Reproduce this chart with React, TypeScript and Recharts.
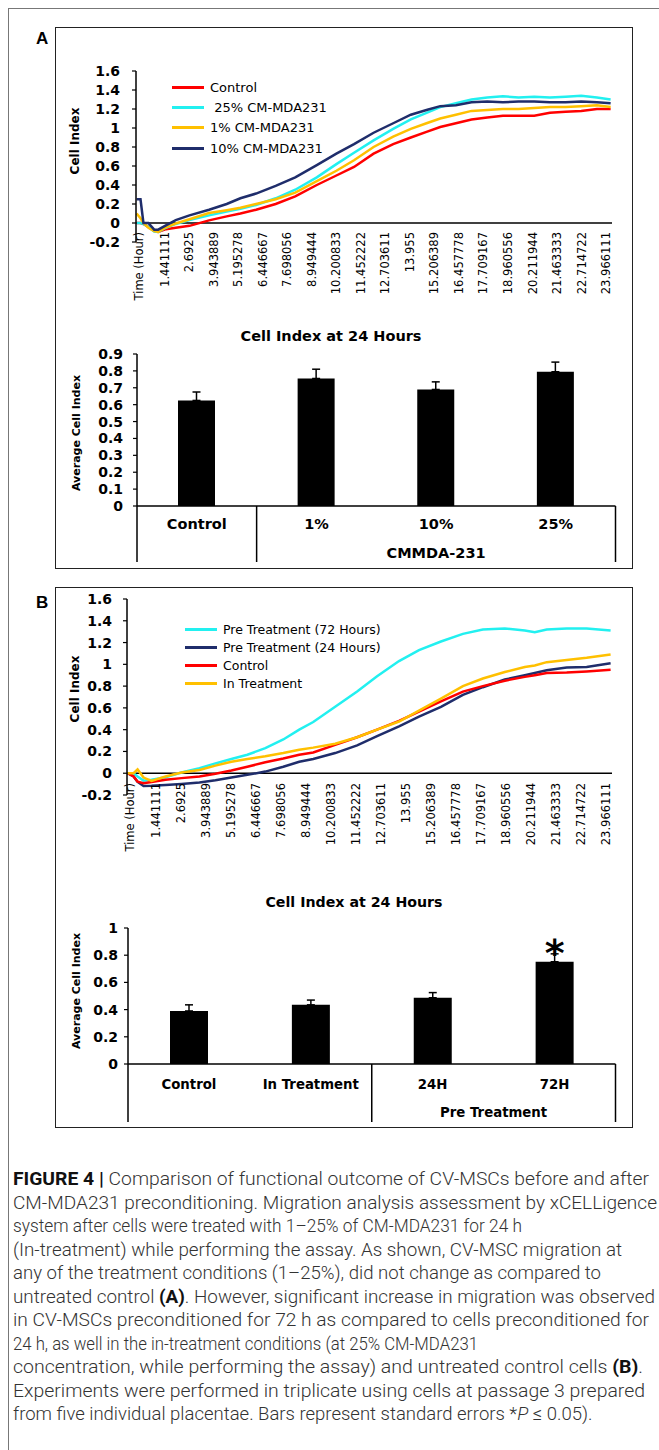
import React from "react";
import {
  LineChart,
  Line,
  XAxis,
  YAxis,
  ReferenceLine,
  Legend,
  BarChart,
  Bar,
  ErrorBar,
  LabelList,
} from "recharts";

const FONT = "'DejaVu Sans', sans-serif";
const CAPTION_FONT = "Roboto, 'Liberation Sans', Arial, sans-serif";

// ---- Panel A: migration curves (Cell Index vs time, hours) ----
const A_TIME = [0, 0.2, 0.35, 0.6, 0.9, 1.1, 1.5, 2.0, 2.7, 3.7, 4.6, 5.3, 6.1, 7.1, 8.1, 9.2, 10.2, 11.1, 12.1, 13.1, 14.0, 14.8, 15.5, 16.3, 17.1, 17.9, 18.7, 19.5, 20.3, 21.1, 21.9, 22.7, 23.5, 24.2];
const A_CONTROL = [0, 0, -0.01, -0.04, -0.085, -0.095, -0.065, -0.05, -0.03, 0.028, 0.07, 0.1, 0.14, 0.2, 0.28, 0.4, 0.5, 0.59, 0.73, 0.83, 0.9, 0.96, 1.01, 1.05, 1.09, 1.11, 1.13, 1.13, 1.13, 1.16, 1.17, 1.18, 1.2, 1.2];
const A_CM25 = [0, 0, -0.01, -0.04, -0.09, -0.095, -0.05, -0.01, 0.03, 0.08, 0.12, 0.15, 0.19, 0.26, 0.35, 0.48, 0.62, 0.74, 0.87, 0.99, 1.09, 1.16, 1.22, 1.26, 1.3, 1.32, 1.335, 1.32, 1.33, 1.32, 1.33, 1.34, 1.32, 1.3];
const A_CM1 = [0.1, 0.05, 0, -0.05, -0.085, -0.095, -0.045, -0.005, 0.04, 0.105, 0.135, 0.16, 0.2, 0.25, 0.32, 0.44, 0.55, 0.66, 0.8, 0.91, 0.99, 1.05, 1.1, 1.14, 1.18, 1.19, 1.2, 1.2, 1.21, 1.22, 1.22, 1.23, 1.24, 1.22];
const A_CM10 = [0.25, 0.25, 0, 0, -0.07, -0.07, -0.025, 0.03, 0.08, 0.14, 0.2, 0.26, 0.31, 0.39, 0.48, 0.61, 0.73, 0.83, 0.95, 1.05, 1.14, 1.19, 1.23, 1.24, 1.27, 1.28, 1.27, 1.28, 1.28, 1.27, 1.27, 1.28, 1.27, 1.26];

// ---- Panel B: migration curves ----
const B_TIME = [0, 0.3, 0.5, 0.8, 1.2, 1.9, 2.7, 3.6, 4.4, 5.2, 6.0, 6.9, 7.8, 8.6, 9.3, 10.4, 11.5, 12.5, 13.6, 14.6, 15.7, 16.8, 17.8, 18.9, 19.9, 20.4, 21.0, 22.0, 23.0, 24.2];
const B_PRE72 = [0, 0, -0.03, -0.068, -0.06, -0.037, 0.006, 0.046, 0.09, 0.13, 0.17, 0.23, 0.31, 0.4, 0.47, 0.61, 0.75, 0.89, 1.03, 1.13, 1.21, 1.28, 1.32, 1.33, 1.31, 1.295, 1.32, 1.33, 1.33, 1.31];
const B_PRE24 = [0, -0.03, -0.08, -0.117, -0.115, -0.108, -0.098, -0.086, -0.065, -0.04, -0.015, 0.015, 0.06, 0.105, 0.13, 0.185, 0.255, 0.34, 0.43, 0.52, 0.61, 0.72, 0.79, 0.86, 0.9, 0.92, 0.945, 0.97, 0.975, 1.01];
const B_CONTROL = [0, -0.03, -0.077, -0.092, -0.08, -0.06, -0.045, -0.03, -0.005, 0.025, 0.06, 0.1, 0.135, 0.17, 0.19, 0.26, 0.33, 0.4, 0.48, 0.565, 0.66, 0.75, 0.8, 0.85, 0.885, 0.9, 0.92, 0.925, 0.935, 0.95];
const B_INTREAT = [0, 0, 0.035, -0.04, -0.07, -0.03, 0.006, 0.03, 0.07, 0.105, 0.13, 0.155, 0.185, 0.216, 0.235, 0.27, 0.33, 0.4, 0.475, 0.575, 0.685, 0.8, 0.87, 0.93, 0.975, 0.99, 1.02, 1.04, 1.06, 1.09];

// x-axis tick positions (hours) and their printed labels
const TIME_TICKS = [0.12, 1.441111, 2.6925, 3.943889, 5.195278, 6.446667, 7.698056, 8.949444, 10.200833, 11.452222, 12.703611, 13.955, 15.206389, 16.457778, 17.709167, 18.960556, 20.211944, 21.463333, 22.714722, 23.966111];
const TIME_LABELS = ["Time (Hour)", "1.441111", "2.6925", "3.943889", "5.195278", "6.446667", "7.698056", "8.949444", "10.200833", "11.452222", "12.703611", "13.955", "15.206389", "16.457778", "17.709167", "18.960556", "20.211944", "21.463333", "22.714722", "23.966111"];
const CI_TICKS = [-0.2, 0, 0.2, 0.4, 0.6, 0.8, 1, 1.2, 1.4, 1.6];

// ---- Bar panels: Cell Index at 24 h ----
const A_BAR_CATS = ["Control", "1%", "10%", "25%"];
const A_BAR_MEANS = [0.625, 0.755, 0.69, 0.795];
const A_BAR_SE = [0.05, 0.055, 0.045, 0.057];
const A_BAR_TICKS = [0, 0.1, 0.2, 0.3, 0.4, 0.5, 0.6, 0.7, 0.8, 0.9];
const A_GROUPS = [
  { from: 0, to: 0, label: "" },
  { from: 1, to: 3, label: "CMMDA-231" },
];

const B_BAR_CATS = ["Control", "In Treatment", "24H", "72H"];
const B_BAR_MEANS = [0.39, 0.435, 0.487, 0.752];
const B_BAR_SE = [0.045, 0.035, 0.038, 0.058];
const B_BAR_SIG = ["", "", "", "*"];
const B_BAR_TICKS = [0, 0.2, 0.4, 0.6, 0.8, 1];
const B_GROUPS = [
  { from: 0, to: 1, label: "" },
  { from: 2, to: 3, label: "Pre Treatment" },
];

const COLORS = {
  red: "#ff0000",
  cyan: "#22f0f0",
  gold: "#ffc000",
  navy: "#1f2d6b",
};

// series listed in legend order
const A_SERIES = [
  { key: "control", name: "Control", color: COLORS.red, values: A_CONTROL },
  { key: "cm25", name: " 25% CM-MDA231", color: COLORS.cyan, values: A_CM25 },
  { key: "cm1", name: "1% CM-MDA231", color: COLORS.gold, values: A_CM1 },
  { key: "cm10", name: "10% CM-MDA231", color: COLORS.navy, values: A_CM10 },
];
const B_SERIES = [
  { key: "pre72", name: "Pre Treatment (72 Hours)", color: COLORS.cyan, values: B_PRE72 },
  { key: "pre24", name: "Pre Treatment (24 Hours)", color: COLORS.navy, values: B_PRE24 },
  { key: "control", name: "Control", color: COLORS.red, values: B_CONTROL },
  { key: "intreat", name: "In Treatment", color: COLORS.gold, values: B_INTREAT },
];

const TIME_DOMAIN: [number, number] = [-0.03, 24.27];

function buildRows(time: number[], series: { key: string; values: number[] }[]) {
  return time.map((t, i) => {
    const row: Record<string, number> = { t };
    series.forEach((s) => (row[s.key] = s.values[i]));
    return row;
  });
}

const TimeTick = (lift: number) => (props: any) => {
  const { x, y, payload } = props;
  const top = y - lift;
  const label = TIME_LABELS[TIME_TICKS.indexOf(payload.value)];
  return (
    <text
      x={x}
      y={top}
      transform={`rotate(-90 ${x} ${top})`}
      textAnchor="end"
      dominantBaseline="central"
      fontFamily={FONT}
      fontSize={11.5}
      fill="#000"
    >
      {label}
    </text>
  );
};

// legend rows follow the series order, colours come from the legend payload
const SeriesLegend =
  (order: string[], rowH: number, lineW: number, fontSize: number) => (props: any) => {
    const items = props.payload || [];
    const sorted = order
      .map((name) => items.find((it: any) => it.value === name))
      .filter(Boolean);
    return (
      <div style={{ fontFamily: FONT, fontSize, color: "#000" }}>
        {sorted.map((it: any) => (
          <div
            key={it.value}
            style={{ height: rowH, display: "flex", alignItems: "center", whiteSpace: "pre" }}
          >
            <span
              style={{ display: "inline-block", width: lineW, height: 3, background: it.color, marginRight: 6 }}
            />
            <span>{it.value}</span>
          </div>
        ))}
      </div>
    );
  };

interface TimeCourseProps {
  top: number;
  series: typeof A_SERIES;
  time: number[];
  margin: { top: number; right: number; bottom: number; left: number };
  tickMargin: number;
  lift: number;
  legendPos: { left: number; top: number };
  legendRow: number;
  legendFont: number;
}

function TimeCourse(p: TimeCourseProps) {
  const rows = buildRows(p.time, p.series);
  return (
    <div style={{ position: "absolute", left: 0, top: p.top }}>
      <LineChart width={659} height={320} data={rows} margin={p.margin}>
        <XAxis
          type="number"
          dataKey="t"
          domain={TIME_DOMAIN}
          ticks={TIME_TICKS}
          interval={0}
          axisLine={false}
          tickLine={false}
          tickSize={0}
          tickMargin={0}
          height={70}
          tick={TimeTick(p.lift)}
        />
        <YAxis
          domain={[-0.2, 1.6]}
          ticks={CI_TICKS}
          interval={0}
          width={60}
          axisLine={{ stroke: "#000", strokeWidth: 1.5 }}
          tickLine={{ stroke: "#000", strokeWidth: 1.2 }}
          tickSize={4}
          tickMargin={p.tickMargin}
          tick={{ fontFamily: FONT, fontWeight: 700, fontSize: 14, fill: "#000" }}
        />
        <ReferenceLine y={0} stroke="#000" strokeWidth={1.5} />
        {p.series.map((s) => (
          <Line
            key={s.key}
            type="linear"
            dataKey={s.key}
            name={s.name}
            stroke={s.color}
            strokeWidth={2.5}
            dot={false}
            isAnimationActive={false}
          />
        ))}
        <Legend
          layout="vertical"
          align="center"
          verticalAlign="middle"
          wrapperStyle={{ left: p.legendPos.left, top: p.legendPos.top, width: "auto" }}
          content={SeriesLegend(p.series.map((s) => s.name), p.legendRow, 32, p.legendFont)}
        />
      </LineChart>
    </div>
  );
}

type Group = { from: number; to: number; label: string };

const CategoryTick =
  (band: number, n: number, groups: Group[], labelDy: number, groupDy: number, sepLen: number, fontSize: number) =>
  (props: any) => {
    const { x, y, payload, index } = props;
    const half = band / 2;
    const g = groups.find((gr) => gr.from === index);
    const text = { fontFamily: FONT, fontWeight: 700, fontSize, fill: "#000" } as const;
    return (
      <g>
        <text x={x} y={y + labelDy} textAnchor="middle" dominantBaseline="central" {...text}>
          {payload.value}
        </text>
        {g && <line x1={x - half} x2={x - half} y1={y} y2={y + sepLen} stroke="#000" strokeWidth={1.5} />}
        {g && g.label && (
          <text x={x + (g.to - g.from) * half} y={y + groupDy} textAnchor="middle" dominantBaseline="central" {...text}>
            {g.label}
          </text>
        )}
        {index === n - 1 && (
          <line x1={x + half} x2={x + half} y1={y} y2={y + sepLen} stroke="#000" strokeWidth={1.5} />
        )}
      </g>
    );
  };

const Star = (props: any) => {
  const { x, y, width, value } = props;
  if (!value) return null;
  return (
    <text x={x + width / 2} y={y + 4} textAnchor="middle" fontFamily={FONT} fontWeight={700} fontSize={38} fill="#000">
      {value}
    </text>
  );
};

interface BarPanelProps {
  top: number;
  cats: string[];
  means: number[];
  se: number[];
  sig?: string[];
  ticks: number[];
  margin: { top: number; right: number; bottom: number; left: number };
  barSize: number;
  tickMargin: number;
  groups: Group[];
  labelDy: number;
  groupDy: number;
  sepLen: number;
  catFont: number;
}

function BarPanel(p: BarPanelProps) {
  const rows = p.cats.map((c, i) => ({
    cat: c,
    v: p.means[i],
    err: [0, p.se[i]],
    sig: p.sig ? p.sig[i] : "",
  }));
  const plotW = 659 - p.margin.left - 60 - p.margin.right;
  const band = plotW / p.cats.length;
  return (
    <div style={{ position: "absolute", left: 0, top: p.top }}>
      <BarChart width={659} height={260} data={rows} margin={p.margin}>
        <XAxis
          dataKey="cat"
          interval={0}
          axisLine={{ stroke: "#000", strokeWidth: 1.5 }}
          tickLine={false}
          tickSize={0}
          tickMargin={0}
          height={60}
          tick={CategoryTick(band, p.cats.length, p.groups, p.labelDy, p.groupDy, p.sepLen, p.catFont)}
        />
        <YAxis
          domain={[0, p.ticks[p.ticks.length - 1]]}
          ticks={p.ticks}
          interval={0}
          width={60}
          axisLine={{ stroke: "#000", strokeWidth: 1.5 }}
          tickLine={{ stroke: "#000", strokeWidth: 1.2 }}
          tickSize={4}
          tickMargin={p.tickMargin}
          tick={{ fontFamily: FONT, fontWeight: 700, fontSize: 14, fill: "#000" }}
        />
        <Bar dataKey="v" fill="#000" barSize={p.barSize} isAnimationActive={false}>
          <ErrorBar dataKey="err" direction="y" width={4} stroke="#000" strokeWidth={1.5} />
          {p.sig && <LabelList dataKey="sig" content={Star} />}
        </Bar>
      </BarChart>
    </div>
  );
}

const abs = (s: React.CSSProperties): React.CSSProperties => ({ position: "absolute", ...s });

function VLabel({ cx, cy, text, size }: { cx: number; cy: number; text: string; size: number }) {
  return (
    <div
      style={abs({
        left: cx,
        top: cy,
        transform: "translate(-50%, -50%) rotate(-90deg)",
        whiteSpace: "nowrap",
        fontFamily: FONT,
        fontWeight: 700,
        fontSize: size,
        color: "#000",
      })}
    >
      {text}
    </div>
  );
}

function Title({ cx, cy, text, size }: { cx: number; cy: number; text: string; size: number }) {
  return (
    <div
      style={abs({
        left: cx,
        top: cy,
        transform: "translate(-50%, -50%)",
        whiteSpace: "nowrap",
        fontFamily: FONT,
        fontWeight: 700,
        fontSize: size,
        color: "#000",
      })}
    >
      {text}
    </div>
  );
}

const CAPTION: { parts: { t: string; b?: boolean; i?: boolean }[]; end: number }[] = [
  { parts: [{ t: "FIGURE 4 | ", b: true }, { t: "Comparison of functional outcome of CV-MSCs before and after" }], end: 649 },
  { parts: [{ t: "CM-MDA231 preconditioning. Migration analysis assessment by xCELLigence" }], end: 657 },
  { parts: [{ t: "system after cells were treated with 1–25% of CM-MDA231 for 24 h" }], end: 522 },
  { parts: [{ t: "(In-treatment) while performing the assay. As shown, CV-MSC migration at" }], end: 622 },
  { parts: [{ t: "any of the treatment conditions (1–25%), did not change as compared to" }], end: 601 },
  { parts: [{ t: "untreated control " }, { t: "(A)", b: true }, { t: ". However, significant increase in migration was observed" }], end: 655 },
  { parts: [{ t: "in CV-MSCs preconditioned for 72 h as compared to cells preconditioned for" }], end: 649 },
  { parts: [{ t: "24 h, as well in the in-treatment conditions (at 25% CM-MDA231" }], end: 478 },
  { parts: [{ t: "concentration, while performing the assay) and untreated control cells " }, { t: "(B)", b: true }, { t: "." }], end: 643 },
  { parts: [{ t: "Experiments were performed in triplicate using cells at passage 3 prepared" }], end: 645 },
  { parts: [{ t: "from five individual placentae. Bars represent standard errors *" }, { t: "P", i: true }, { t: " ≤ 0.05)." }], end: 0 },
];

function Caption() {
  const x0 = 13;
  return (
    <svg width={659} height={290} style={abs({ left: 0, top: 1160 })}>
      {CAPTION.map((line, i) => (
        <text
          key={i}
          x={x0}
          y={25 + i * 23.5}
          textLength={line.end ? line.end - x0 : undefined}
          lengthAdjust={line.end ? "spacingAndGlyphs" : undefined}
          fontFamily={CAPTION_FONT}
          fontWeight={300}
          fontSize={18.5}
          fill="#333"
        >
          {line.parts.map((pt, j) => (
            <tspan key={j} fontWeight={pt.b ? 700 : 300} fontStyle={pt.i ? "italic" : "normal"} fill={pt.b ? "#111" : undefined}>
              {pt.t}
            </tspan>
          ))}
        </text>
      ))}
    </svg>
  );
}

export default function App() {
  return (
    <div style={abs({ left: 0, top: 0, width: 659, height: 1450, background: "#fff", overflow: "hidden" })}>
      <div style={abs({ left: 8, top: 8, width: 700, height: 1500, borderTop: "1px solid #777", borderLeft: "1px solid #777" })} />
      <div style={abs({ left: 55, top: 27, width: 578, height: 542, border: "1.5px solid #222", boxSizing: "border-box" })} />
      <div style={abs({ left: 55, top: 587, width: 578, height: 541, border: "1.5px solid #222", boxSizing: "border-box" })} />
      <div style={abs({ left: 36, top: 29, fontFamily: "'Liberation Sans', Arial, sans-serif", fontWeight: 700, fontSize: 17 })}>A</div>
      <div style={abs({ left: 36, top: 593, fontFamily: "'Liberation Sans', Arial, sans-serif", fontWeight: 700, fontSize: 17 })}>B</div>

      <TimeCourse
        top={0}
        series={A_SERIES}
        time={A_TIME}
        margin={{ top: 71, right: 47, bottom: 8, left: 76 }}
        tickMargin={12}
        lift={10}
        legendPos={{ left: 172, top: 77 }}
        legendRow={20.3}
        legendFont={13}
      />
      <VLabel cx={75} cy={141} text="Cell Index" size={12} />

      <Title cx={331} cy={336} text="Cell Index at 24 Hours" size={14.5} />
      <BarPanel
        top={320}
        cats={A_BAR_CATS}
        means={A_BAR_MEANS}
        se={A_BAR_SE}
        ticks={A_BAR_TICKS}
        margin={{ top: 34, right: 43.5, bottom: 14, left: 77 }}
        barSize={37}
        tickMargin={10}
        groups={A_GROUPS}
        labelDy={18}
        groupDy={47}
        sepLen={56}
        catFont={14.5}
      />
      <VLabel cx={76} cy={433} text="Average Cell Index" size={11} />

      <TimeCourse
        top={560}
        series={B_SERIES}
        time={B_TIME}
        margin={{ top: 39, right: 47, bottom: 15, left: 67 }}
        tickMargin={11}
        lift={12}
        legendPos={{ left: 185, top: 61 }}
        legendRow={17.8}
        legendFont={12.5}
      />
      <VLabel cx={75} cy={689} text="Cell Index" size={12} />

      <Title cx={354} cy={902} text="Cell Index at 24 Hours" size={14.2} />
      <BarPanel
        top={880}
        cats={B_BAR_CATS}
        means={B_BAR_MEANS}
        se={B_BAR_SE}
        sig={B_BAR_SIG}
        ticks={B_BAR_TICKS}
        margin={{ top: 48, right: 43.5, bottom: 16, left: 68 }}
        barSize={38}
        tickMargin={6}
        groups={B_GROUPS}
        labelDy={20}
        groupDy={48}
        sepLen={58}
        catFont={13.3}
      />
      <VLabel cx={76} cy={991} text="Average Cell Index" size={11} />

      <Caption />
    </div>
  );
}
